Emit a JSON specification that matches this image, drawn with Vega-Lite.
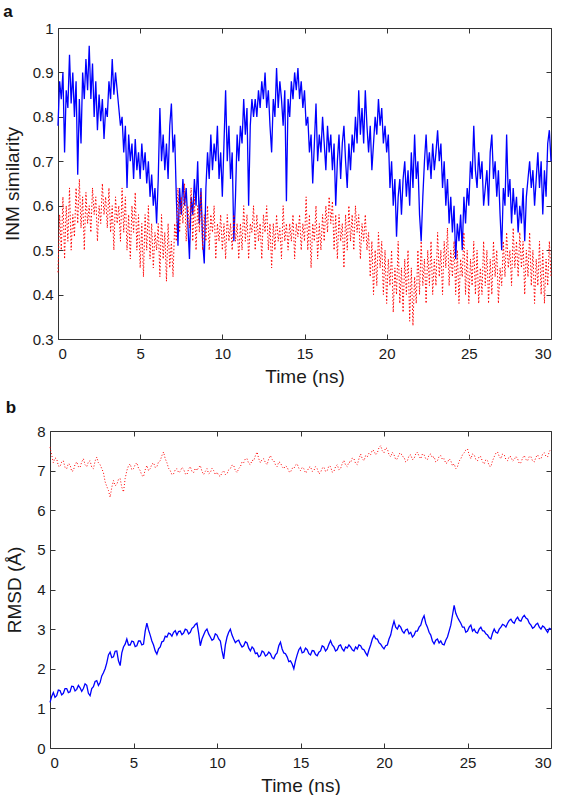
{
"$schema": "https://vega.github.io/schema/vega-lite/v6.json",
"background": "white",
"padding": {"left": 3, "top": 3, "right": 0, "bottom": 0},
"config": {
 "view": {"stroke": null},
 "font": "Liberation Sans",
 "axis": {"grid": false, "domain": true, "domainColor": "#333333", "domainWidth": 1, "tickColor": "#333333", "tickSize": -5, "labelFontSize": 15, "labelColor": "#1a1a1a", "titleFontSize": 19, "titleFontWeight": "normal", "titleColor": "#1a1a1a", "labelFont": "Liberation Sans", "titleFont": "Liberation Sans"},
 "title": {"fontSize": 17, "fontWeight": "bold", "anchor": "start", "frame": "bounds", "color": "#111111", "font": "Liberation Sans"}
},
"datasets": {
 "pa": [
{"t":0,"b":0.78,"r":0.45},{"t":0.1,"b":0.88,"r":0.58},{"t":0.2,"b":0.84,"r":0.5},{"t":0.3,"b":0.9,"r":0.62},{"t":0.4,"b":0.72,"r":0.48},{"t":0.5,"b":0.86,"r":0.6},{"t":0.6,"b":0.82,"r":0.52},{"t":0.7,"b":0.94,"r":0.64},{"t":0.8,"b":0.83,"r":0.5},{"t":0.9,"b":0.9,"r":0.58},
{"t":1,"b":0.8,"r":0.53},{"t":1.1,"b":0.88,"r":0.64},{"t":1.2,"b":0.67,"r":0.56},{"t":1.3,"b":0.84,"r":0.66},{"t":1.4,"b":0.74,"r":0.55},{"t":1.5,"b":0.9,"r":0.62},{"t":1.6,"b":0.84,"r":0.5},{"t":1.7,"b":0.93,"r":0.63},{"t":1.8,"b":0.86,"r":0.56},{"t":1.9,"b":0.96,"r":0.6},
{"t":2,"b":0.84,"r":0.54},{"t":2.1,"b":0.92,"r":0.64},{"t":2.2,"b":0.8,"r":0.58},{"t":2.3,"b":0.88,"r":0.62},{"t":2.4,"b":0.77,"r":0.52},{"t":2.5,"b":0.85,"r":0.6},{"t":2.6,"b":0.79,"r":0.56},{"t":2.7,"b":0.84,"r":0.65},{"t":2.8,"b":0.75,"r":0.58},{"t":2.9,"b":0.82,"r":0.62},
{"t":3,"b":0.8,"r":0.55},{"t":3.1,"b":0.88,"r":0.64},{"t":3.2,"b":0.84,"r":0.54},{"t":3.3,"b":0.93,"r":0.6},{"t":3.4,"b":0.85,"r":0.5},{"t":3.5,"b":0.9,"r":0.62},{"t":3.6,"b":0.86,"r":0.56},{"t":3.7,"b":0.82,"r":0.6},{"t":3.8,"b":0.78,"r":0.52},{"t":3.9,"b":0.8,"r":0.64},
{"t":4,"b":0.72,"r":0.54},{"t":4.1,"b":0.78,"r":0.62},{"t":4.2,"b":0.64,"r":0.5},{"t":4.3,"b":0.76,"r":0.58},{"t":4.4,"b":0.7,"r":0.48},{"t":4.5,"b":0.74,"r":0.6},{"t":4.6,"b":0.66,"r":0.54},{"t":4.7,"b":0.75,"r":0.63},{"t":4.8,"b":0.68,"r":0.5},{"t":4.9,"b":0.72,"r":0.58},
{"t":5,"b":0.66,"r":0.46},{"t":5.1,"b":0.74,"r":0.56},{"t":5.2,"b":0.68,"r":0.44},{"t":5.3,"b":0.72,"r":0.58},{"t":5.4,"b":0.65,"r":0.5},{"t":5.5,"b":0.7,"r":0.6},{"t":5.6,"b":0.62,"r":0.48},{"t":5.7,"b":0.67,"r":0.56},{"t":5.8,"b":0.6,"r":0.46},{"t":5.9,"b":0.64,"r":0.54},
{"t":6,"b":0.56,"r":0.5},{"t":6.1,"b":0.66,"r":0.56},{"t":6.2,"b":0.82,"r":0.44},{"t":6.3,"b":0.7,"r":0.58},{"t":6.4,"b":0.76,"r":0.48},{"t":6.5,"b":0.68,"r":0.54},{"t":6.6,"b":0.74,"r":0.43},{"t":6.7,"b":0.66,"r":0.56},{"t":6.8,"b":0.78,"r":0.46},{"t":6.9,"b":0.83,"r":0.52},
{"t":7,"b":0.72,"r":0.44},{"t":7.1,"b":0.76,"r":0.56},{"t":7.2,"b":0.62,"r":0.52},{"t":7.3,"b":0.51,"r":0.64},{"t":7.4,"b":0.64,"r":0.54},{"t":7.5,"b":0.58,"r":0.62},{"t":7.6,"b":0.66,"r":0.56},{"t":7.7,"b":0.6,"r":0.65},{"t":7.8,"b":0.64,"r":0.52},{"t":7.9,"b":0.56,"r":0.6},
{"t":8,"b":0.48,"r":0.55},{"t":8.1,"b":0.62,"r":0.64},{"t":8.2,"b":0.58,"r":0.52},{"t":8.3,"b":0.66,"r":0.62},{"t":8.4,"b":0.6,"r":0.5},{"t":8.5,"b":0.7,"r":0.6},{"t":8.6,"b":0.56,"r":0.54},{"t":8.7,"b":0.64,"r":0.63},{"t":8.8,"b":0.52,"r":0.5},{"t":8.9,"b":0.47,"r":0.58},
{"t":9,"b":0.64,"r":0.52},{"t":9.1,"b":0.72,"r":0.6},{"t":9.2,"b":0.66,"r":0.5},{"t":9.3,"b":0.76,"r":0.58},{"t":9.4,"b":0.68,"r":0.54},{"t":9.5,"b":0.74,"r":0.6},{"t":9.6,"b":0.7,"r":0.48},{"t":9.7,"b":0.78,"r":0.56},{"t":9.8,"b":0.66,"r":0.52},{"t":9.9,"b":0.72,"r":0.58},
{"t":10,"b":0.62,"r":0.5},{"t":10.1,"b":0.74,"r":0.56},{"t":10.2,"b":0.86,"r":0.48},{"t":10.3,"b":0.7,"r":0.58},{"t":10.4,"b":0.78,"r":0.52},{"t":10.5,"b":0.66,"r":0.56},{"t":10.6,"b":0.72,"r":0.5},{"t":10.7,"b":0.52,"r":0.58},{"t":10.8,"b":0.62,"r":0.52},{"t":10.9,"b":0.76,"r":0.56},
{"t":11,"b":0.7,"r":0.48},{"t":11.1,"b":0.78,"r":0.56},{"t":11.2,"b":0.74,"r":0.5},{"t":11.3,"b":0.84,"r":0.6},{"t":11.4,"b":0.76,"r":0.52},{"t":11.5,"b":0.82,"r":0.58},{"t":11.6,"b":0.6,"r":0.48},{"t":11.7,"b":0.78,"r":0.56},{"t":11.8,"b":0.84,"r":0.54},{"t":11.9,"b":0.8,"r":0.6},
{"t":12,"b":0.84,"r":0.5},{"t":12.1,"b":0.8,"r":0.58},{"t":12.2,"b":0.86,"r":0.52},{"t":12.3,"b":0.82,"r":0.56},{"t":12.4,"b":0.88,"r":0.48},{"t":12.5,"b":0.84,"r":0.58},{"t":12.6,"b":0.9,"r":0.54},{"t":12.7,"b":0.82,"r":0.6},{"t":12.8,"b":0.86,"r":0.5},{"t":12.9,"b":0.78,"r":0.56},
{"t":13,"b":0.72,"r":0.46},{"t":13.1,"b":0.84,"r":0.56},{"t":13.2,"b":0.8,"r":0.5},{"t":13.3,"b":0.91,"r":0.58},{"t":13.4,"b":0.82,"r":0.52},{"t":13.5,"b":0.88,"r":0.55},{"t":13.6,"b":0.84,"r":0.48},{"t":13.7,"b":0.78,"r":0.6},{"t":13.8,"b":0.86,"r":0.52},{"t":13.9,"b":0.61,"r":0.56},
{"t":14,"b":0.84,"r":0.5},{"t":14.1,"b":0.8,"r":0.56},{"t":14.2,"b":0.88,"r":0.52},{"t":14.3,"b":0.84,"r":0.58},{"t":14.4,"b":0.9,"r":0.48},{"t":14.5,"b":0.86,"r":0.56},{"t":14.6,"b":0.91,"r":0.53},{"t":14.7,"b":0.84,"r":0.58},{"t":14.8,"b":0.88,"r":0.5},{"t":14.9,"b":0.82,"r":0.56},
{"t":15,"b":0.86,"r":0.52},{"t":15.1,"b":0.78,"r":0.62},{"t":15.2,"b":0.8,"r":0.5},{"t":15.3,"b":0.72,"r":0.58},{"t":15.4,"b":0.76,"r":0.46},{"t":15.5,"b":0.65,"r":0.56},{"t":15.6,"b":0.74,"r":0.52},{"t":15.7,"b":0.83,"r":0.6},{"t":15.8,"b":0.7,"r":0.48},{"t":15.9,"b":0.76,"r":0.56},
{"t":16,"b":0.72,"r":0.5},{"t":16.1,"b":0.8,"r":0.58},{"t":16.2,"b":0.74,"r":0.52},{"t":16.3,"b":0.68,"r":0.6},{"t":16.4,"b":0.78,"r":0.54},{"t":16.5,"b":0.72,"r":0.62},{"t":16.6,"b":0.76,"r":0.56},{"t":16.7,"b":0.68,"r":0.61},{"t":16.8,"b":0.74,"r":0.5},{"t":16.9,"b":0.6,"r":0.58},
{"t":17,"b":0.7,"r":0.48},{"t":17.1,"b":0.76,"r":0.58},{"t":17.2,"b":0.66,"r":0.52},{"t":17.3,"b":0.74,"r":0.56},{"t":17.4,"b":0.78,"r":0.46},{"t":17.5,"b":0.7,"r":0.58},{"t":17.6,"b":0.64,"r":0.5},{"t":17.7,"b":0.74,"r":0.6},{"t":17.8,"b":0.68,"r":0.52},{"t":17.9,"b":0.76,"r":0.58},
{"t":18,"b":0.72,"r":0.5},{"t":18.1,"b":0.8,"r":0.6},{"t":18.2,"b":0.74,"r":0.54},{"t":18.3,"b":0.86,"r":0.58},{"t":18.4,"b":0.76,"r":0.48},{"t":18.5,"b":0.82,"r":0.56},{"t":18.6,"b":0.74,"r":0.52},{"t":18.7,"b":0.86,"r":0.58},{"t":18.8,"b":0.78,"r":0.5},{"t":18.9,"b":0.72,"r":0.54},
{"t":19,"b":0.78,"r":0.44},{"t":19.1,"b":0.68,"r":0.52},{"t":19.2,"b":0.74,"r":0.4},{"t":19.3,"b":0.8,"r":0.5},{"t":19.4,"b":0.76,"r":0.42},{"t":19.5,"b":0.84,"r":0.54},{"t":19.6,"b":0.78,"r":0.46},{"t":19.7,"b":0.82,"r":0.52},{"t":19.8,"b":0.74,"r":0.4},{"t":19.9,"b":0.78,"r":0.5},
{"t":20,"b":0.72,"r":0.38},{"t":20.1,"b":0.76,"r":0.48},{"t":20.2,"b":0.64,"r":0.42},{"t":20.3,"b":0.7,"r":0.5},{"t":20.4,"b":0.6,"r":0.36},{"t":20.5,"b":0.66,"r":0.46},{"t":20.6,"b":0.53,"r":0.4},{"t":20.7,"b":0.62,"r":0.52},{"t":20.8,"b":0.66,"r":0.38},{"t":20.9,"b":0.58,"r":0.46},
{"t":21,"b":0.66,"r":0.36},{"t":21.1,"b":0.7,"r":0.48},{"t":21.2,"b":0.62,"r":0.4},{"t":21.3,"b":0.68,"r":0.5},{"t":21.4,"b":0.6,"r":0.34},{"t":21.5,"b":0.72,"r":0.46},{"t":21.6,"b":0.64,"r":0.33},{"t":21.7,"b":0.76,"r":0.44},{"t":21.8,"b":0.66,"r":0.38},{"t":21.9,"b":0.7,"r":0.5},
{"t":22,"b":0.58,"r":0.4},{"t":22.1,"b":0.52,"r":0.52},{"t":22.2,"b":0.62,"r":0.42},{"t":22.3,"b":0.7,"r":0.48},{"t":22.4,"b":0.76,"r":0.38},{"t":22.5,"b":0.68,"r":0.5},{"t":22.6,"b":0.72,"r":0.42},{"t":22.7,"b":0.66,"r":0.52},{"t":22.8,"b":0.74,"r":0.4},{"t":22.9,"b":0.68,"r":0.48},
{"t":23,"b":0.72,"r":0.42},{"t":23.1,"b":0.77,"r":0.54},{"t":23.2,"b":0.7,"r":0.44},{"t":23.3,"b":0.74,"r":0.5},{"t":23.4,"b":0.64,"r":0.4},{"t":23.5,"b":0.7,"r":0.52},{"t":23.6,"b":0.6,"r":0.46},{"t":23.7,"b":0.66,"r":0.55},{"t":23.8,"b":0.56,"r":0.42},{"t":23.9,"b":0.62,"r":0.5},
{"t":24,"b":0.54,"r":0.44},{"t":24.1,"b":0.6,"r":0.52},{"t":24.2,"b":0.48,"r":0.4},{"t":24.3,"b":0.56,"r":0.5},{"t":24.4,"b":0.52,"r":0.38},{"t":24.5,"b":0.58,"r":0.48},{"t":24.6,"b":0.5,"r":0.44},{"t":24.7,"b":0.62,"r":0.54},{"t":24.8,"b":0.56,"r":0.4},{"t":24.9,"b":0.64,"r":0.5},
{"t":25,"b":0.6,"r":0.38},{"t":25.1,"b":0.7,"r":0.48},{"t":25.2,"b":0.66,"r":0.42},{"t":25.3,"b":0.78,"r":0.52},{"t":25.4,"b":0.68,"r":0.4},{"t":25.5,"b":0.64,"r":0.5},{"t":25.6,"b":0.72,"r":0.38},{"t":25.7,"b":0.66,"r":0.46},{"t":25.8,"b":0.7,"r":0.4},{"t":25.9,"b":0.6,"r":0.52},
{"t":26,"b":0.64,"r":0.42},{"t":26.1,"b":0.68,"r":0.5},{"t":26.2,"b":0.6,"r":0.38},{"t":26.3,"b":0.72,"r":0.48},{"t":26.4,"b":0.76,"r":0.4},{"t":26.5,"b":0.66,"r":0.52},{"t":26.6,"b":0.7,"r":0.44},{"t":26.7,"b":0.62,"r":0.5},{"t":26.8,"b":0.68,"r":0.38},{"t":26.9,"b":0.58,"r":0.46},
{"t":27,"b":0.5,"r":0.42},{"t":27.1,"b":0.64,"r":0.52},{"t":27.2,"b":0.6,"r":0.44},{"t":27.3,"b":0.76,"r":0.54},{"t":27.4,"b":0.62,"r":0.46},{"t":27.5,"b":0.66,"r":0.5},{"t":27.6,"b":0.56,"r":0.42},{"t":27.7,"b":0.64,"r":0.55},{"t":27.8,"b":0.58,"r":0.46},{"t":27.9,"b":0.62,"r":0.52},
{"t":28,"b":0.54,"r":0.44},{"t":28.1,"b":0.6,"r":0.54},{"t":28.2,"b":0.56,"r":0.46},{"t":28.3,"b":0.64,"r":0.52},{"t":28.4,"b":0.52,"r":0.4},{"t":28.5,"b":0.62,"r":0.5},{"t":28.6,"b":0.66,"r":0.44},{"t":28.7,"b":0.7,"r":0.54},{"t":28.8,"b":0.64,"r":0.42},{"t":28.9,"b":0.68,"r":0.5},
{"t":29,"b":0.6,"r":0.38},{"t":29.1,"b":0.66,"r":0.48},{"t":29.2,"b":0.72,"r":0.42},{"t":29.3,"b":0.64,"r":0.52},{"t":29.4,"b":0.7,"r":0.4},{"t":29.5,"b":0.58,"r":0.5},{"t":29.6,"b":0.68,"r":0.38},{"t":29.7,"b":0.62,"r":0.48},{"t":29.8,"b":0.74,"r":0.42},{"t":29.9,"b":0.77,"r":0.52},
{"t":30,"b":0.7,"r":0.44}
 ],
 "pb": [
{"t":0,"b":1.15,"r":7.59},{"t":0.1,"b":1.3,"r":7.4},{"t":0.2,"b":1.4,"r":7.2},{"t":0.3,"b":1.28,"r":7.32},{"t":0.4,"b":1.32,"r":7.3},{"t":0.5,"b":1.46,"r":7.12},{"t":0.6,"b":1.45,"r":7.1},{"t":0.7,"b":1.34,"r":7.22},{"t":0.8,"b":1.38,"r":7.25},{"t":0.9,"b":1.5,"r":7.08},
{"t":1,"b":1.5,"r":7.05},{"t":1.1,"b":1.4,"r":7.18},{"t":1.2,"b":1.42,"r":7.15},{"t":1.3,"b":1.56,"r":6.98},{"t":1.4,"b":1.55,"r":7.0},{"t":1.5,"b":1.44,"r":7.16},{"t":1.6,"b":1.48,"r":7.22},{"t":1.7,"b":1.58,"r":7.1},{"t":1.8,"b":1.52,"r":7.08},{"t":1.9,"b":1.43,"r":7.22},
{"t":2,"b":1.5,"r":7.3},{"t":2.1,"b":1.62,"r":7.15},{"t":2.2,"b":1.58,"r":7.1},{"t":2.3,"b":1.38,"r":7.22},{"t":2.4,"b":1.32,"r":7.25},{"t":2.5,"b":1.5,"r":7.08},{"t":2.6,"b":1.55,"r":7.05},{"t":2.7,"b":1.68,"r":7.24},{"t":2.8,"b":1.7,"r":7.34},{"t":2.9,"b":1.58,"r":7.2},
{"t":3,"b":1.65,"r":7.15},{"t":3.1,"b":1.82,"r":7.05},{"t":3.2,"b":1.9,"r":6.95},{"t":3.3,"b":2.0,"r":6.72},{"t":3.4,"b":2.15,"r":6.6},{"t":3.5,"b":2.35,"r":6.5},{"t":3.6,"b":2.42,"r":6.33},{"t":3.7,"b":2.28,"r":6.58},{"t":3.8,"b":2.3,"r":6.75},{"t":3.9,"b":2.44,"r":6.62},
{"t":4,"b":2.45,"r":6.65},{"t":4.1,"b":2.2,"r":6.78},{"t":4.2,"b":2.08,"r":6.8},{"t":4.3,"b":2.4,"r":6.58},{"t":4.4,"b":2.55,"r":6.46},{"t":4.5,"b":2.62,"r":6.8},{"t":4.6,"b":2.75,"r":7.0},{"t":4.7,"b":2.6,"r":7.12},{"t":4.8,"b":2.6,"r":7.17},{"t":4.9,"b":2.7,"r":7.02},
{"t":5,"b":2.68,"r":7.05},{"t":5.1,"b":2.56,"r":7.15},{"t":5.2,"b":2.58,"r":7.2},{"t":5.3,"b":2.7,"r":7.06},{"t":5.4,"b":2.7,"r":7.0},{"t":5.5,"b":2.6,"r":6.88},{"t":5.6,"b":2.62,"r":6.85},{"t":5.7,"b":2.95,"r":7.02},{"t":5.8,"b":3.15,"r":7.13},{"t":5.9,"b":2.98,"r":7.0},
{"t":6,"b":2.85,"r":7.05},{"t":6.1,"b":2.7,"r":7.16},{"t":6.2,"b":2.6,"r":7.2},{"t":6.3,"b":2.45,"r":7.08},{"t":6.4,"b":2.37,"r":7.1},{"t":6.5,"b":2.5,"r":7.22},{"t":6.6,"b":2.55,"r":7.25},{"t":6.7,"b":2.68,"r":7.38},{"t":6.8,"b":2.7,"r":7.47},{"t":6.9,"b":2.82,"r":7.3},
{"t":7,"b":2.8,"r":7.2},{"t":7.1,"b":2.9,"r":7.06},{"t":7.2,"b":2.88,"r":7.0},{"t":7.3,"b":2.82,"r":6.9},{"t":7.4,"b":2.92,"r":6.92},{"t":7.5,"b":2.96,"r":7.02},{"t":7.6,"b":2.85,"r":7.05},{"t":7.7,"b":2.94,"r":6.95},{"t":7.8,"b":2.95,"r":6.98},{"t":7.9,"b":2.86,"r":7.08},
{"t":8,"b":2.9,"r":7.04},{"t":8.1,"b":3.0,"r":6.92},{"t":8.2,"b":2.98,"r":6.9},{"t":8.3,"b":2.88,"r":7.04},{"t":8.4,"b":2.92,"r":7.1},{"t":8.5,"b":3.02,"r":6.98},{"t":8.6,"b":3.05,"r":6.95},{"t":8.7,"b":3.12,"r":7.06},{"t":8.8,"b":3.15,"r":7.0},{"t":8.9,"b":2.9,"r":7.08},
{"t":9,"b":2.58,"r":7.13},{"t":9.1,"b":2.75,"r":6.98},{"t":9.2,"b":2.85,"r":6.9},{"t":9.3,"b":2.95,"r":6.98},{"t":9.4,"b":3.0,"r":7.05},{"t":9.5,"b":2.88,"r":6.92},{"t":9.6,"b":2.8,"r":6.95},{"t":9.7,"b":2.72,"r":7.06},{"t":9.8,"b":2.75,"r":7.0},{"t":9.9,"b":2.88,"r":6.9},
{"t":10,"b":2.85,"r":6.96},{"t":10.1,"b":2.75,"r":6.88},{"t":10.2,"b":2.7,"r":6.85},{"t":10.3,"b":2.45,"r":6.95},{"t":10.4,"b":2.25,"r":7.0},{"t":10.5,"b":2.6,"r":6.9},{"t":10.6,"b":2.8,"r":6.92},{"t":10.7,"b":2.92,"r":7.02},{"t":10.8,"b":3.0,"r":7.05},{"t":10.9,"b":2.85,"r":7.14},
{"t":11,"b":2.75,"r":7.13},{"t":11.1,"b":2.66,"r":7.0},{"t":11.2,"b":2.7,"r":6.95},{"t":11.3,"b":2.72,"r":7.05},{"t":11.4,"b":2.62,"r":7.1},{"t":11.5,"b":2.55,"r":7.22},{"t":11.6,"b":2.58,"r":7.2},{"t":11.7,"b":2.68,"r":7.3},{"t":11.8,"b":2.65,"r":7.3},{"t":11.9,"b":2.52,"r":7.18},
{"t":12,"b":2.45,"r":7.15},{"t":12.1,"b":2.55,"r":7.26},{"t":12.2,"b":2.5,"r":7.25},{"t":12.3,"b":2.38,"r":7.38},{"t":12.4,"b":2.4,"r":7.47},{"t":12.5,"b":2.3,"r":7.3},{"t":12.6,"b":2.33,"r":7.2},{"t":12.7,"b":2.45,"r":7.28},{"t":12.8,"b":2.42,"r":7.3},{"t":12.9,"b":2.32,"r":7.2},
{"t":13,"b":2.35,"r":7.15},{"t":13.1,"b":2.42,"r":7.3},{"t":13.2,"b":2.38,"r":7.38},{"t":13.3,"b":2.28,"r":7.28},{"t":13.4,"b":2.25,"r":7.25},{"t":13.5,"b":2.35,"r":7.15},{"t":13.6,"b":2.4,"r":7.1},{"t":13.7,"b":2.58,"r":7.22},{"t":13.8,"b":2.67,"r":7.2},{"t":13.9,"b":2.5,"r":7.1},
{"t":14,"b":2.4,"r":7.05},{"t":14.1,"b":2.38,"r":7.12},{"t":14.2,"b":2.3,"r":7.09},{"t":14.3,"b":2.18,"r":6.98},{"t":14.4,"b":2.2,"r":6.96},{"t":14.5,"b":2.12,"r":7.06},{"t":14.6,"b":2.0,"r":7.05},{"t":14.7,"b":2.2,"r":7.14},{"t":14.8,"b":2.35,"r":7.17},{"t":14.9,"b":2.48,"r":7.06},
{"t":15,"b":2.54,"r":7.0},{"t":15.1,"b":2.4,"r":7.08},{"t":15.2,"b":2.42,"r":7.05},{"t":15.3,"b":2.52,"r":6.94},{"t":15.4,"b":2.48,"r":6.98},{"t":15.5,"b":2.38,"r":7.08},{"t":15.6,"b":2.35,"r":7.1},{"t":15.7,"b":2.46,"r":6.98},{"t":15.8,"b":2.45,"r":7.0},{"t":15.9,"b":2.36,"r":7.1},
{"t":16,"b":2.33,"r":7.05},{"t":16.1,"b":2.42,"r":6.92},{"t":16.2,"b":2.45,"r":6.95},{"t":16.3,"b":2.58,"r":7.06},{"t":16.4,"b":2.55,"r":7.09},{"t":16.5,"b":2.45,"r":6.98},{"t":16.6,"b":2.5,"r":7.0},{"t":16.7,"b":2.62,"r":7.12},{"t":16.8,"b":2.71,"r":7.1},{"t":16.9,"b":2.6,"r":6.96},
{"t":17,"b":2.55,"r":6.98},{"t":17.1,"b":2.45,"r":7.1},{"t":17.2,"b":2.48,"r":7.15},{"t":17.3,"b":2.58,"r":7.02},{"t":17.4,"b":2.6,"r":7.05},{"t":17.5,"b":2.5,"r":7.18},{"t":17.6,"b":2.45,"r":7.26},{"t":17.7,"b":2.55,"r":7.14},{"t":17.8,"b":2.52,"r":7.1},{"t":17.9,"b":2.6,"r":7.22},
{"t":18,"b":2.55,"r":7.2},{"t":18.1,"b":2.48,"r":7.32},{"t":18.2,"b":2.45,"r":7.3},{"t":18.3,"b":2.55,"r":7.18},{"t":18.4,"b":2.5,"r":7.15},{"t":18.5,"b":2.6,"r":7.3},{"t":18.6,"b":2.58,"r":7.42},{"t":18.7,"b":2.5,"r":7.3},{"t":18.8,"b":2.48,"r":7.25},{"t":18.9,"b":2.4,"r":7.38},
{"t":19,"b":2.33,"r":7.35},{"t":19.1,"b":2.48,"r":7.44},{"t":19.2,"b":2.6,"r":7.4},{"t":19.3,"b":2.75,"r":7.52},{"t":19.4,"b":2.84,"r":7.5},{"t":19.5,"b":2.76,"r":7.4},{"t":19.6,"b":2.75,"r":7.45},{"t":19.7,"b":2.66,"r":7.58},{"t":19.8,"b":2.62,"r":7.63},{"t":19.9,"b":2.55,"r":7.5},
{"t":20,"b":2.5,"r":7.45},{"t":20.1,"b":2.58,"r":7.58},{"t":20.2,"b":2.6,"r":7.55},{"t":20.3,"b":2.75,"r":7.4},{"t":20.4,"b":2.85,"r":7.35},{"t":20.5,"b":3.05,"r":7.46},{"t":20.6,"b":3.2,"r":7.4},{"t":20.7,"b":3.05,"r":7.28},{"t":20.8,"b":3.0,"r":7.3},{"t":20.9,"b":3.1,"r":7.42},
{"t":21,"b":3.05,"r":7.45},{"t":21.1,"b":2.95,"r":7.36},{"t":21.2,"b":2.9,"r":7.34},{"t":21.3,"b":2.98,"r":7.22},{"t":21.4,"b":3.0,"r":7.25},{"t":21.5,"b":2.88,"r":7.38},{"t":21.6,"b":2.92,"r":7.4},{"t":21.7,"b":2.8,"r":7.28},{"t":21.8,"b":2.85,"r":7.3},{"t":21.9,"b":2.95,"r":7.42},
{"t":22,"b":2.95,"r":7.47},{"t":22.1,"b":3.05,"r":7.36},{"t":22.2,"b":3.1,"r":7.3},{"t":22.3,"b":3.25,"r":7.42},{"t":22.4,"b":3.34,"r":7.4},{"t":22.5,"b":3.15,"r":7.3},{"t":22.6,"b":3.05,"r":7.28},{"t":22.7,"b":2.92,"r":7.4},{"t":22.8,"b":2.85,"r":7.42},{"t":22.9,"b":2.7,"r":7.32},
{"t":23,"b":2.63,"r":7.35},{"t":23.1,"b":2.72,"r":7.22},{"t":23.2,"b":2.75,"r":7.25},{"t":23.3,"b":2.65,"r":7.36},{"t":23.4,"b":2.7,"r":7.38},{"t":23.5,"b":2.62,"r":7.28},{"t":23.6,"b":2.6,"r":7.3},{"t":23.7,"b":2.72,"r":7.18},{"t":23.8,"b":2.8,"r":7.2},{"t":23.9,"b":2.95,"r":7.3},
{"t":24,"b":3.1,"r":7.25},{"t":24.1,"b":3.35,"r":7.12},{"t":24.2,"b":3.6,"r":7.17},{"t":24.3,"b":3.4,"r":7.05},{"t":24.4,"b":3.3,"r":7.1},{"t":24.5,"b":3.22,"r":7.24},{"t":24.6,"b":3.15,"r":7.3},{"t":24.7,"b":3.05,"r":7.4},{"t":24.8,"b":3.05,"r":7.45},{"t":24.9,"b":2.92,"r":7.52},
{"t":25,"b":2.95,"r":7.55},{"t":25.1,"b":3.05,"r":7.4},{"t":25.2,"b":3.1,"r":7.3},{"t":25.3,"b":2.95,"r":7.42},{"t":25.4,"b":3.0,"r":7.4},{"t":25.5,"b":2.92,"r":7.28},{"t":25.6,"b":2.9,"r":7.25},{"t":25.7,"b":3.0,"r":7.36},{"t":25.8,"b":3.05,"r":7.35},{"t":25.9,"b":2.96,"r":7.22},
{"t":26,"b":2.95,"r":7.17},{"t":26.1,"b":2.88,"r":7.28},{"t":26.2,"b":2.85,"r":7.25},{"t":26.3,"b":2.78,"r":7.12},{"t":26.4,"b":2.75,"r":7.1},{"t":26.5,"b":2.9,"r":7.25},{"t":26.6,"b":3.0,"r":7.35},{"t":26.7,"b":2.92,"r":7.44},{"t":26.8,"b":2.9,"r":7.47},{"t":26.9,"b":3.0,"r":7.36},
{"t":27,"b":3.05,"r":7.3},{"t":27.1,"b":3.12,"r":7.42},{"t":27.2,"b":3.1,"r":7.4},{"t":27.3,"b":3.05,"r":7.28},{"t":27.4,"b":3.15,"r":7.25},{"t":27.5,"b":3.22,"r":7.36},{"t":27.6,"b":3.25,"r":7.35},{"t":27.7,"b":3.18,"r":7.24},{"t":27.8,"b":3.15,"r":7.28},{"t":27.9,"b":3.25,"r":7.36},
{"t":28,"b":3.3,"r":7.3},{"t":28.1,"b":3.22,"r":7.18},{"t":28.2,"b":3.2,"r":7.2},{"t":28.3,"b":3.3,"r":7.32},{"t":28.4,"b":3.35,"r":7.38},{"t":28.5,"b":3.28,"r":7.28},{"t":28.6,"b":3.25,"r":7.25},{"t":28.7,"b":3.15,"r":7.36},{"t":28.8,"b":3.1,"r":7.35},{"t":28.9,"b":3.02,"r":7.24},
{"t":29,"b":3.05,"r":7.22},{"t":29.1,"b":3.12,"r":7.34},{"t":29.2,"b":3.15,"r":7.4},{"t":29.3,"b":3.05,"r":7.3},{"t":29.4,"b":3.0,"r":7.3},{"t":29.5,"b":3.08,"r":7.42},{"t":29.6,"b":3.05,"r":7.45},{"t":29.7,"b":2.98,"r":7.36},{"t":29.8,"b":2.92,"r":7.35},{"t":29.9,"b":3.02,"r":7.48},
{"t":30,"b":3.0,"r":7.55}
 ]
},
"concat": [
 {
  "title": {"text": "a", "offset": 0},
  "width": 501, "height": 311,
  "data": {"name": "pa"},
  "layer": [
   {"mark": {"type": "line", "color": "#0000ff", "strokeWidth": 1.3},
    "encoding": {
     "x": {"field": "t", "type": "quantitative", "scale": {"domain": [0, 30], "nice": false, "range": [8, 501]}, "axis": {"orient": "bottom", "values": [0,5,10,15,20,25,30], "title": "Time (ns)", "labelPadding": 12, "titlePadding": 6}},
     "y": {"field": "b", "type": "quantitative", "scale": {"domain": [0.3, 1], "nice": false, "zero": false}, "axis": {"orient": "left", "offset": -8, "values": [0.3,0.4,0.5,0.6,0.7,0.8,0.9,1], "format": "~g", "title": "INM similarity", "labelPadding": 10, "titlePadding": 10}}
    }},
   {"mark": {"type": "line", "color": "#ff0000", "strokeWidth": 1, "strokeDash": [1.5, 2]},
    "encoding": {
     "x": {"field": "t", "type": "quantitative", "axis": null},
     "y": {"field": "r", "type": "quantitative", "axis": null}
    }},
   {"mark": {"type": "line", "strokeOpacity": 0},
    "encoding": {
     "x": {"field": "t", "type": "quantitative", "axis": {"orient": "top", "values": [0,5,10,15,20,25,30], "labels": false, "title": null}},
     "y": {"field": "b", "type": "quantitative", "axis": {"orient": "right", "values": [0.3,0.4,0.5,0.6,0.7,0.8,0.9,1], "labels": false, "title": null}}
    }}
  ]
 },
 {
  "title": {"text": "b", "offset": 7},
  "width": 501, "height": 317,
  "data": {"name": "pb"},
  "layer": [
   {"mark": {"type": "line", "color": "#0000ff", "strokeWidth": 1.3},
    "encoding": {
     "x": {"field": "t", "type": "quantitative", "scale": {"domain": [0, 30], "nice": false}, "axis": {"orient": "bottom", "values": [0,5,10,15,20,25,30], "title": "Time (ns)", "labelPadding": 12, "titlePadding": 6}},
     "y": {"field": "b", "type": "quantitative", "scale": {"domain": [0, 8], "nice": false}, "axis": {"orient": "left", "values": [0,1,2,3,4,5,6,7,8], "title": "RMSD (Å)", "labelPadding": 10, "titlePadding": 12}}
    }},
   {"mark": {"type": "line", "color": "#ff0000", "strokeWidth": 1, "strokeDash": [1, 2]},
    "encoding": {
     "x": {"field": "t", "type": "quantitative", "axis": null},
     "y": {"field": "r", "type": "quantitative", "axis": null}
    }},
   {"mark": {"type": "line", "strokeOpacity": 0},
    "encoding": {
     "x": {"field": "t", "type": "quantitative", "axis": {"orient": "top", "values": [0,5,10,15,20,25,30], "labels": false, "title": null}},
     "y": {"field": "b", "type": "quantitative", "axis": {"orient": "right", "values": [0,1,2,3,4,5,6,7,8], "labels": false, "title": null}}
    }}
  ]
 }
],
"columns": 1,
"spacing": 13
}
